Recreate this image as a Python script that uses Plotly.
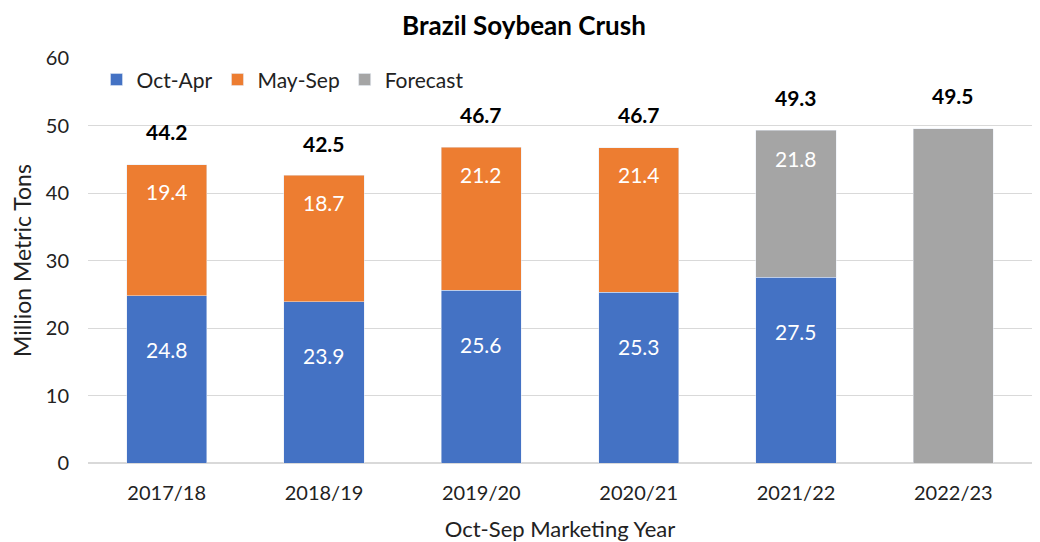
import plotly.graph_objects as go

years = ["2017/18", "2018/19", "2019/20", "2020/21", "2021/22", "2022/23"]
oct_apr = [24.8, 23.9, 25.6, 25.3, 27.5, None]
may_sep = [19.4, 18.7, 21.2, 21.4, None, None]
forecast = [None, None, None, None, 21.8, 49.5]
forecast_labels = ["", "", "", "", "21.8", ""]
totals = [44.2, 42.5, 46.7, 46.7, 49.3, 49.5]

BLUE = "#4472C4"
ORANGE = "#ED7D31"
GRAY = "#A5A5A5"
FONT = "Lato"
LBL = 21

fig = go.Figure()
fig.add_trace(go.Bar(x=years, y=oct_apr, name="Oct-Apr", marker_color=BLUE))
fig.add_trace(go.Bar(x=years, y=may_sep, name="May-Sep", marker_color=ORANGE))
fig.add_trace(go.Bar(x=years, y=forecast, name="Forecast", marker_color=GRAY))

annotations = []
for i, yr in enumerate(years):
    base = 0
    if oct_apr[i] is not None:
        base = oct_apr[i]
        annotations.append(dict(x=yr, y=base, text=f"{oct_apr[i]:.1f}", showarrow=False,
                                yshift=-54, font=dict(color="white", size=LBL, family=FONT)))
    if may_sep[i] is not None:
        annotations.append(dict(x=yr, y=base + may_sep[i], text=f"{may_sep[i]:.1f}", showarrow=False,
                                yshift=-27, font=dict(color="white", size=LBL, family=FONT)))
        base += may_sep[i]
    if forecast[i] is not None and forecast_labels[i]:
        annotations.append(dict(x=yr, y=base + forecast[i], text=forecast_labels[i], showarrow=False,
                                yshift=-28, font=dict(color="white", size=LBL, family=FONT)))
    annotations.append(dict(x=yr, y=totals[i], text=f"<b>{totals[i]:.1f}</b>", showarrow=False,
                            yshift=33, font=dict(color="black", size=LBL, family=FONT)))

fig.update_layout(
    barmode="stack",
    bargap=0.49,
    width=1032, height=534,
    margin=dict(l=80, r=8, t=50, b=79),
    paper_bgcolor="white", plot_bgcolor="white",
    font=dict(family=FONT, size=20, color="#222222"),
    title=dict(text="<b>Brazil Soybean Crush</b>", x=0.5, xanchor="center", y=0.966, yanchor="middle",
               font=dict(size=26, color="black", family=FONT)),
    legend=dict(orientation="h", x=0.009, y=0.946, xanchor="left", yanchor="middle",
                font=dict(size=21, family=FONT, color="#222222"), bgcolor="rgba(0,0,0,0)",
                traceorder="normal", itemwidth=30),
    xaxis=dict(title=dict(text="Oct-Sep Marketing Year", font=dict(size=22), standoff=18),
               showline=False, ticks="", tickfont=dict(size=20), ticklabelstandoff=16,
               automargin=False),
    yaxis=dict(range=[0, 60], dtick=10, showgrid=True, gridcolor="#D9D9D9", gridwidth=1,
               zeroline=True, zerolinecolor="#D9D9D9",
               title=dict(text="Million Metric Tons", font=dict(size=23), standoff=8),
               tickfont=dict(size=20), ticks="", ticklen=0, ticklabelstandoff=18),
    annotations=annotations,
)

fig.write_html("out.html")
